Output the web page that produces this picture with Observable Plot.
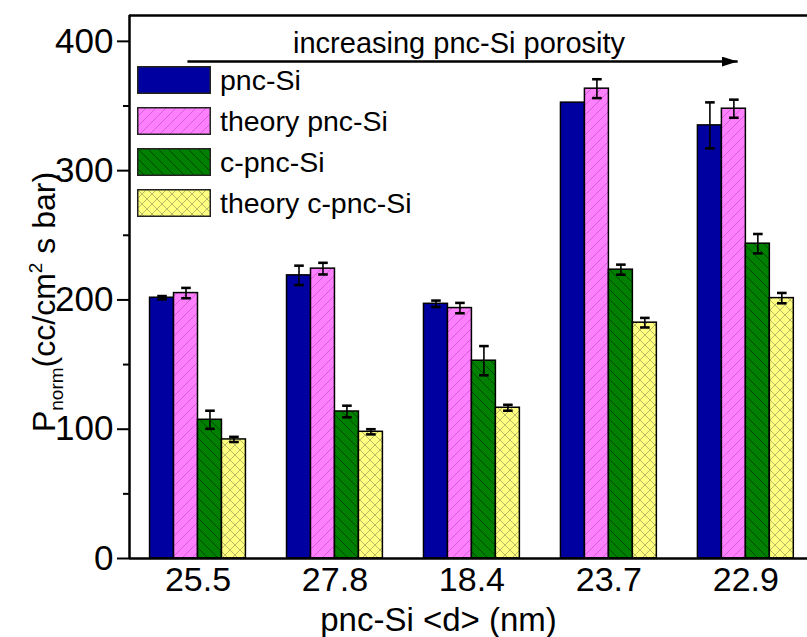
<!DOCTYPE html>
<html><head><meta charset="utf-8">
<script src="https://cdn.jsdelivr.net/npm/d3@7"></script>
<script src="https://cdn.jsdelivr.net/npm/@observablehq/plot@0.6"></script>
<style>
body{margin:0;background:#fff;font-family:"Liberation Sans",Arial,sans-serif;}
#wrap{position:relative;width:807px;height:637px;}
#legend{position:absolute;left:137px;top:66px;}
.row{display:flex;align-items:center;height:28px;margin-bottom:13px;}
.row svg{width:74px;height:28px;display:block;}
.row span{font-size:28.5px;margin-left:9px;color:#000;line-height:28px;}
</style></head><body><div id="wrap"></div>
<script>
// ---- data ----
const groups = ["25.5", "27.8", "18.4", "23.7", "22.9"];
const series = ["pnc-Si", "theory pnc-Si", "c-pnc-Si", "theory c-pnc-Si"];
const pncSi = [201.7, 219, 197, 352.6, 335];
const pncSiErr = [1.3, 7.5, 2.5, 0, 17.8];
const theoryPncSi = [205.3, 224.2, 193.7, 363.4, 347.9];
const theoryPncSiErr = [4, 4.5, 4, 7.3, 7];
const cPncSi = [107.3, 113.7, 153, 223.4, 243.5];
const cPncSiErr = [7, 4.5, 11.3, 3.9, 7.5];
const theoryCPncSi = [92.1, 98, 116.6, 182.4, 201.4];
const theoryCPncSiErr = [2, 2, 2.3, 3.7, 4];
const yTicks = [0, 100, 200, 300, 400];
const yMinorTicks = [50, 150, 250, 350];
const xTitle = "pnc-Si <d> (nm)";
const annotationText = ["increasing pnc-Si porosity"];
const annotationTextPos = {x: 1.906, y: 398.3};
const annotationArrow = [{x1: -0.077, x2: 3.94, y: 384.4}];

// ---- table ----
const values = [pncSi, theoryPncSi, cPncSi, theoryCPncSi];
const errors = [pncSiErr, theoryPncSiErr, cPncSiErr, theoryCPncSiErr];
const rows = [];
series.forEach((s, si) => groups.forEach((g, gi) => rows.push({g: gi, s: si, v: values[si][gi], e: errors[si][gi]})));

const fills = ["#0000A0", "url(#hatchPink)", "url(#hatchGreen)", "url(#hatchYellow)"];
const w = 0.175; // bar width in group units
const xDomain = [-0.5, 4.45];
const yDomain = [0, 420];
const center = d => d.g + (d.s - 1.5) * w;

const plot = Plot.plot({
  width: 807, height: 637,
  marginLeft: 129, marginRight: 0, marginTop: 15, marginBottom: 79,
  style: {fontFamily: "Liberation Sans, Arial, sans-serif", fontSize: "34px", color: "#000", background: "#fff", overflow: "visible"},
  x: {domain: xDomain},
  y: {domain: yDomain},
  marks: [
    ...series.map((s, si) => Plot.rectY(rows.filter(d => d.s === si), {
      x1: d => d.g + (d.s - 2) * w, x2: d => d.g + (d.s - 1) * w, y: "v",
      fill: fills[si], stroke: "#000", strokeWidth: 1.5, inset: 0
    })),
    Plot.link(rows.filter(d => d.e > 0), {
      x1: center, x2: center, y1: d => d.v - d.e, y2: d => d.v + d.e,
      stroke: "#000", strokeWidth: 1.6, markerStart: "tick", markerEnd: "tick"
    }),
    Plot.ruleX([xDomain[0]], {stroke: "#000", strokeWidth: 2.5}),
    Plot.ruleY([yDomain[0]], {stroke: "#000", strokeWidth: 2.5}),
    Plot.ruleY([yDomain[1]], {stroke: "#000", strokeWidth: 2.5}),
    Plot.axisY(yTicks, {tickSize: 12, tickPadding: 4, strokeWidth: 2, label: null, fontSize: 35}),
    Plot.axisY(yMinorTicks, {tickSize: 6, strokeWidth: 2, tickFormat: () => "", label: null}),
    Plot.axisX([0, 1, 2, 3, 4], {tickSize: 0, tickPadding: 8, tickFormat: i => groups[i], label: null, fontSize: 34}),
    Plot.text([xTitle], {frameAnchor: "bottom", dy: 62, dx: -30, fontSize: 33, lineAnchor: "middle"}),
    Plot.text(annotationText, {x: () => annotationTextPos.x, y: () => annotationTextPos.y, text: d => d, fontSize: 29}),
    Plot.link(annotationArrow, {x1: "x1", x2: "x2", y1: "y", y2: "y", stroke: "#000", strokeWidth: 2.5, className: "porosity-arrow"})
  ]
});

const svg = d3.select(plot);
const defs = svg.insert("defs", ":first-child");
const pink = defs.append("pattern").attr("id", "hatchPink").attr("patternUnits", "userSpaceOnUse").attr("width", 10).attr("height", 10);
pink.append("rect").attr("width", 10).attr("height", 10).attr("fill", "#FF80FF");
pink.append("path").attr("d", "M-1,1 L1,-1 M0,10 L10,0 M9,11 L11,9").attr("stroke", "#C458CC").attr("stroke-width", 0.8);
const green = defs.append("pattern").attr("id", "hatchGreen").attr("patternUnits", "userSpaceOnUse").attr("width", 10).attr("height", 10);
green.append("rect").attr("width", 10).attr("height", 10).attr("fill", "#008000");
green.append("path").attr("d", "M-1,9 L1,11 M0,0 L10,10 M9,-1 L11,1").attr("stroke", "#003800").attr("stroke-width", 0.8);
const yellow = defs.append("pattern").attr("id", "hatchYellow").attr("patternUnits", "userSpaceOnUse").attr("width", 10).attr("height", 10);
yellow.append("rect").attr("width", 10).attr("height", 10).attr("fill", "#FFFF80");
yellow.append("path").attr("d", "M-1,1 L1,-1 M0,10 L10,0 M9,11 L11,9 M-1,9 L1,11 M0,0 L10,10 M9,-1 L11,1").attr("stroke", "#A8A860").attr("stroke-width", 0.8);
const marker = defs.append("marker").attr("id", "arrowHead").attr("markerUnits", "userSpaceOnUse")
  .attr("markerWidth", 18).attr("markerHeight", 12).attr("refX", 16).attr("refY", 5).attr("orient", "auto").attr("viewBox", "0 0 18 12");
marker.append("path").attr("d", "M0,0 L16,5 L0,10 Z").attr("fill", "#000");
svg.selectAll(".porosity-arrow path").attr("marker-end", "url(#arrowHead)");

// y title with sub/superscript
const yt = svg.append("text").attr("transform", "translate(55,302) rotate(-90)").attr("text-anchor", "middle")
  .attr("font-size", 32).attr("font-family", "Liberation Sans, Arial, sans-serif").attr("fill", "#000");
yt.append("tspan").text("P");
yt.append("tspan").attr("font-size", 19).attr("dy", 8).text("norm");
yt.append("tspan").attr("dy", -8).text("(cc/cm");
yt.append("tspan").attr("font-size", 19).attr("dy", -13).text("2");
yt.append("tspan").attr("dy", 13).text(" s bar)");

const wrap = document.getElementById("wrap");
wrap.appendChild(plot);

// legend
const legend = document.createElement("div");
legend.id = "legend";
series.forEach((s, si) => {
  const row = document.createElement("div");
  row.className = "row";
  const sw = d3.create("svg").attr("width", 74).attr("height", 28);
  sw.append("rect").attr("x", 0.75).attr("y", 0.75).attr("width", 72.5).attr("height", 26.5).attr("fill", fills[si]).attr("stroke", "#222").attr("stroke-width", 1.5);
  row.appendChild(sw.node());
  const t = document.createElement("span");
  t.textContent = s;
  row.appendChild(t);
  legend.appendChild(row);
});
wrap.appendChild(legend);
</script></body></html>
